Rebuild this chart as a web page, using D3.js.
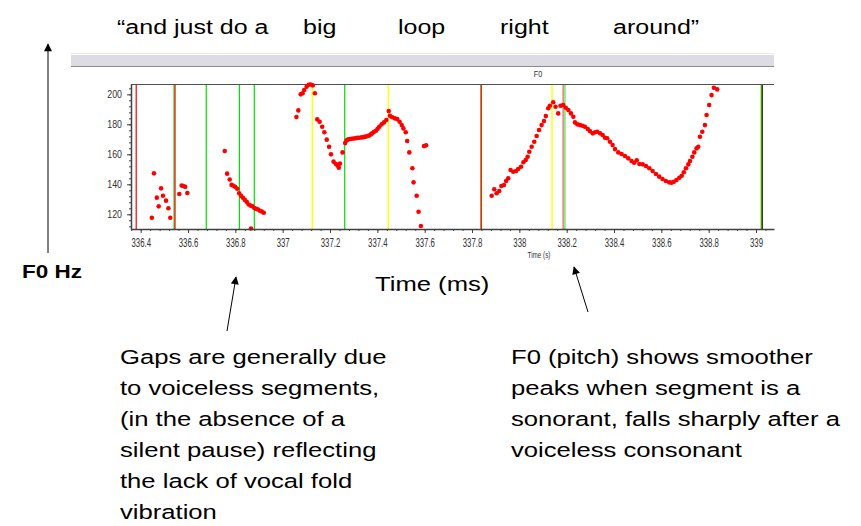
<!DOCTYPE html>
<html>
<head>
<meta charset="utf-8">
<script src="https://cdn.jsdelivr.net/npm/d3@7"></script>
<style>
  html, body { margin: 0; padding: 0; background: #fff; }
  svg { display: block; font-family: "Liberation Sans", Arial, sans-serif; }
</style>
</head>
<body>
<svg id="chart" width="861" height="526"></svg>
<script>
// Pitch track (time in s, F0 in Hz), one array per voiced stretch
const seg1 = [[336.447,117.7],[336.456,147.3],[336.468,131.1],[336.476,125.3],[336.486,137.3],
  [336.494,132.4],[336.507,129.1],[336.517,124.0],[336.525,117.7]];
const seg2 = [[336.563,133.5],[336.573,139.2],[336.580,138.9],[336.588,138.3],[336.597,134.2]];
const seg3 = [[336.755,162.2],[336.765,147.1],[336.776,143.2],[336.784,139.6],[336.792,139.0],
  [336.800,138.2],[336.808,137.0],[336.816,134.0],[336.824,132.3],[336.832,131.0],[336.840,129.6],
  [336.848,128.3],[336.856,126.5],[336.864,125.8],[336.872,125.4],[336.880,124.2],[336.888,123.6],
  [336.896,123.2],[336.904,122.4],[336.912,121.8],[336.920,121.0],[336.866,110.5]];
const seg4 = [[337.058,184.9],[337.066,189.3],[337.076,200.0],[337.084,200.7],[337.091,202.9],
  [337.101,205.1],[337.110,206.4],[337.118,206.6],[337.127,206.0],[337.136,200.7],[337.146,183.3],
  [337.156,181.7],[337.167,178.4],[337.176,174.7],[337.186,169.8],[337.196,165.1],[337.204,160.0],
  [337.215,155.1],[337.225,153.5],[337.232,152.6],[337.237,151.1],[337.242,153.8],[337.253,161.3]];
const seg5 = [[337.264,167.5],[337.270,169.3],[337.277,170.0],[337.285,170.2],[337.292,170.4],
  [337.300,170.6],[337.308,170.7],[337.316,171.0],[337.324,171.1],[337.334,171.3],[337.342,171.5],
  [337.350,171.8],[337.358,172.2],[337.366,172.6],[337.372,173.3],[337.378,174.0],[337.386,175.0],
  [337.394,175.7],[337.401,177.0],[337.408,178.4],[337.418,180.0],[337.428,181.3],[337.438,182.9],
  [337.448,188.9],[337.453,185.7],[337.463,184.7],[337.474,184.0],[337.484,183.5],[337.494,181.7],
  [337.503,179.5],[337.510,177.3],[337.520,174.7],[337.526,168.9],[337.535,161.3],[337.548,150.7],
  [337.553,141.3],[337.566,132.4],[337.574,121.7],[337.584,112.2],[337.597,165.5],[337.606,166.0]];
const seg6 = [[337.883,132.4],[337.894,136.7],[337.904,134.0],[337.915,135.5],[337.924,138.9],
  [337.935,139.5],[337.944,142.2],[337.953,144.0],[337.963,149.5],[337.974,148.4],[337.986,148.9],
  [337.995,150.2],[338.007,151.7],[338.017,154.7],[338.027,156.2],[338.035,158.4],[338.042,161.7],
  [338.052,165.1],[338.063,168.4],[338.073,172.2],[338.083,176.2],[338.094,179.5],[338.104,182.2],
  [338.112,185.5],[338.122,190.7],[338.129,192.4],[338.143,194.7],[338.153,191.7],[338.164,187.3],
  [338.174,192.4],[338.185,192.9],[338.196,191.1],[338.207,189.5],[338.218,187.3],[338.228,185.1],
  [338.235,181.3],[338.245,180.0],[338.256,179.5],[338.267,179.1],[338.277,178.4],[338.289,176.9],
  [338.298,175.5],[338.310,174.0],[338.320,174.7],[338.329,175.1],[338.341,174.0],[338.352,172.9],
  [338.362,171.1],[338.371,170.7],[338.383,168.4],[338.394,166.2],[338.404,163.5],[338.418,161.3],
  [338.432,160.2],[338.446,158.9],[338.460,157.3],[338.474,155.5],[338.485,154.4],[338.496,156.0],
  [338.507,153.5],[338.521,153.3],[338.535,152.2],[338.549,150.7],[338.563,148.9],[338.577,146.9],
  [338.591,145.1],[338.605,143.5],[338.619,142.2],[338.633,141.3],[338.643,141.1],[338.653,141.7],
  [338.664,142.9],[338.676,144.4],[338.686,145.7],[338.695,148.0],[338.704,150.7],[338.714,153.3],
  [338.721,155.5],[338.731,158.4],[338.739,161.3],[338.749,164.0],[338.756,165.1],[338.763,171.7],
  [338.773,175.1],[338.784,179.5],[338.791,186.2],[338.802,192.9],[338.812,199.5],[338.822,204.4],
  [338.836,203.3]];
const segments = [seg1, seg2, seg3, seg4, seg5, seg6];

// Segment boundary markers (s)
const redMarks = [336.381, 336.545, 337.838];
const greenMarks = [336.541, 336.677, 336.817, 336.880, 337.262, 337.840];
const yellowMarks = [337.125, 337.446, 338.138, 339.020];
const paleRedMarks = [338.186];
const paleGreenMarks = [338.192, 339.023];
const endMarks = [339.026];

// Axis ticks
const xTicks = [336.4, 336.6, 336.8, 337, 337.2, 337.4, 337.6, 337.8, 338, 338.2, 338.4, 338.6, 338.8, 339];
const yTicks = [120, 140, 160, 180, 200];

// Transcript words over the plot
const words = ["\u201Cand just do a", "big", "loop", "right", "around\u201D"];
const wordX = [117, 303, 398, 500, 613];

const noteLeft = ["Gaps are generally due", "to voiceless segments,", "(in the absence of a",
  "silent pause) reflecting", "the lack of vocal fold", "vibration"];
const noteRight = ["F0 (pitch) shows smoother", "peaks when segment is a",
  "sonorant, falls sharply after a", "voiceless consonant"];

const svg = d3.select("#chart");

// scale a text's advance width by a factor
function stretch(sel, sx) {
  sel.each(function () {
    const w = this.getComputedTextLength();
    d3.select(this).attr("textLength", w * sx).attr("lengthAdjust", "spacingAndGlyphs");
  });
}
const SLIDE_SX = 1.25;

// Window strip above the plot
const panelL = 71, panelR = 774;
svg.append("line").attr("x1", panelL).attr("x2", panelR).attr("y1", 53.5).attr("y2", 53.5)
  .attr("stroke", "#ecead8");
svg.append("rect").attr("x", panelL).attr("y", 55).attr("width", panelR - panelL).attr("height", 11)
  .attr("fill", "#dcdce2");
svg.append("line").attr("x1", panelL).attr("x2", panelR).attr("y1", 66.5).attr("y2", 66.5)
  .attr("stroke", "#8a8a8a");

// Scales
const plotL = 131, plotR = 774, plotT = 84, plotB = 229;
const x = d3.scaleLinear().domain([336.359, 339.076]).range([plotL, plotR]);
const y = d3.scaleLinear().domain([110.2, 206.9]).range([plotB, plotT]);

// Marker lines
const markers = [
  [greenMarks, "#00e000", 1.2],
  [redMarks, "#ff0000", 1.2],
  [yellowMarks, "#ffff00", 1.4],
  [paleRedMarks, "#f08080", 2],
  [paleGreenMarks, "#80f080", 2],
  [endMarks, "#000000", 1.2]
];
markers.forEach(([arr, col, w]) => {
  svg.append("g").selectAll("line").data(arr).join("line")
    .attr("x1", d => x(d)).attr("x2", d => x(d))
    .attr("y1", plotT).attr("y2", plotB)
    .attr("stroke", col).attr("stroke-width", w);
});

// Plot frame top
svg.append("line").attr("x1", plotL).attr("x2", plotR).attr("y1", plotT + 0.5).attr("y2", plotT + 0.5)
  .attr("stroke", "#505050");

// Pitch points
svg.append("g").selectAll("circle").data(segments.flat()).join("circle")
  .attr("cx", d => x(d[0])).attr("cy", d => y(d[1])).attr("r", 2.3)
  .attr("fill", "#ff0000");

// X axis
const xMinor = d3.range(336.36, 339.08, 0.04);
svg.append("g").attr("transform", `translate(0,${plotB})`)
  .call(d3.axisBottom(x).tickValues(xMinor).tickSize(2).tickFormat(""))
  .call(g => g.select(".domain").remove())
  .selectAll("line").attr("stroke", "#404040");
const xAxis = svg.append("g").attr("transform", `translate(0,${plotB})`)
  .call(d3.axisBottom(x).tickValues(xTicks).tickSize(4).tickSizeOuter(0).tickPadding(5)
    .tickFormat(d => String(+d.toFixed(1))));
xAxis.select(".domain").attr("stroke", "#404040").attr("stroke-width", 1.5);
xAxis.selectAll("line").attr("stroke", "#404040");
xAxis.selectAll("text").attr("font-size", 12).attr("fill", "#333").call(stretch, 0.65);

// Y axis
const yMinor = d3.range(112, 207, 4);
svg.append("g").attr("transform", `translate(${plotL},0)`)
  .call(d3.axisLeft(y).tickValues(yMinor).tickSize(2).tickFormat(""))
  .call(g => g.select(".domain").remove())
  .selectAll("line").attr("stroke", "#404040");
const yAxis = svg.append("g").attr("transform", `translate(${plotL},0)`)
  .call(d3.axisLeft(y).tickValues(yTicks).tickSize(4).tickSizeOuter(0).tickPadding(5));
yAxis.select(".domain").attr("stroke", "#404040").attr("stroke-width", 1.5);
yAxis.selectAll("line").attr("stroke", "#404040");
yAxis.selectAll("text").attr("font-size", 11).attr("fill", "#333").call(stretch, 0.8);

// Small plot captions
svg.append("text").attr("x", 538).attr("y", 77).attr("text-anchor", "middle")
  .attr("font-size", 9).attr("fill", "#333").text("F0").call(stretch, 0.8);
svg.append("text").attr("x", 539).attr("y", 258).attr("text-anchor", "middle")
  .attr("font-size", 9).attr("fill", "#333").text("Time (s)").call(stretch, 0.7);

// Transcript
svg.append("g").selectAll("text").data(words).join("text")
  .attr("x", (d, i) => wordX[i]).attr("y", 34)
  .attr("font-size", 20).attr("fill", "#000").text(d => d).call(stretch, SLIDE_SX);

// Axis description arrows
svg.append("defs").append("marker").attr("id", "head").attr("viewBox", "0 0 10 10")
  .attr("refX", 9).attr("refY", 5).attr("markerWidth", 9).attr("markerHeight", 8)
  .attr("markerUnits", "userSpaceOnUse").attr("orient", "auto")
  .append("path").attr("d", "M0,0L10,5L0,10Z").attr("fill", "#000");
svg.append("line").attr("x1", 48).attr("y1", 253).attr("x2", 48).attr("y2", 44)
  .attr("stroke", "#000").attr("stroke-width", 1).attr("marker-end", "url(#head)");
svg.append("text").attr("x", 22).attr("y", 278)
  .attr("font-size", 18).attr("font-weight", "bold").text("F0 Hz").call(stretch, SLIDE_SX);
svg.append("text").attr("x", 375).attr("y", 291)
  .attr("font-size", 20.5).text("Time (ms)").call(stretch, SLIDE_SX);

svg.append("line").attr("x1", 227).attr("y1", 331).attr("x2", 236).attr("y2", 277)
  .attr("stroke", "#000").attr("marker-end", "url(#head)");
svg.append("line").attr("x1", 588).attr("y1", 312).attr("x2", 574).attr("y2", 267)
  .attr("stroke", "#000").attr("marker-end", "url(#head)");

// Annotations
const lineGap = 31;
svg.append("g").selectAll("text").data(noteLeft).join("text")
  .attr("x", 120).attr("y", (d, i) => 364 + i * lineGap)
  .attr("font-size", 20.5).text(d => d).call(stretch, SLIDE_SX);
svg.append("g").selectAll("text").data(noteRight).join("text")
  .attr("x", 511).attr("y", (d, i) => 364 + i * lineGap)
  .attr("font-size", 20.5).text(d => d).call(stretch, SLIDE_SX);
</script>
</body>
</html>
